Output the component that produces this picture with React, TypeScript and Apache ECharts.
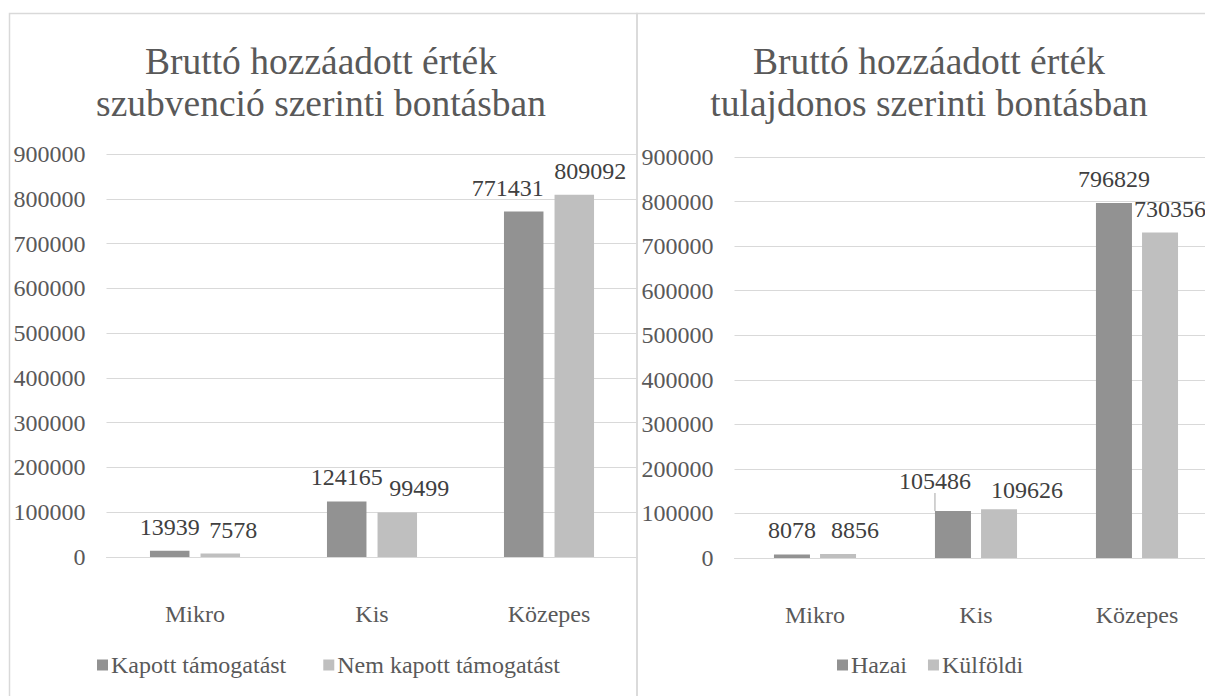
import React, { useEffect, useRef } from "react";
import * as echarts from "echarts";

const categories = ["Mikro", "Kis", "Közepes"];
const leftSeriesNames = ["Kapott támogatást", "Nem kapott támogatást"];
const kapott = [13939, 124165, 771431];
const nemKapott = [7578, 99499, 809092];
const rightSeriesNames = ["Hazai", "Külföldi"];
const hazai = [8078, 105486, 796829];
const kulfoldi = [8856, 109626, 730356];
const yMin = 0;
const yMax = 900000;
const yInterval = 100000;

const leftTitle = ["Bruttó hozzáadott érték", "szubvenció szerinti bontásban"];
const rightTitle = ["Bruttó hozzáadott érték", "tulajdonos szerinti bontásban"];

// label nudges (style, not data)
const labelShift: number[][][] = [
  [[0, 0], [0, 0], [-16, 0]],
  [[13, 0], [22, 0], [16, 0]],
  [[0, 0], [-18, -6], [0, 0]],
  [[17, 0], [28, 5], [10, 0]],
];
// which label has a leader line: [seriesIdx, dataIdx]
const leaderLabel = [2, 1];

const FONT = "Liberation Serif";
const AXIS_COLOR = "#595959";
const LABEL_COLOR = "#404040";
const GRID_COLOR = "#d9d9d9";
const DARK = "#929292";
const LIGHT = "#bfbfbf";

export default function App() {
  const ref = useRef<HTMLDivElement>(null);
  useEffect(() => {
    if (!ref.current) return;
    const chart = echarts.init(ref.current, null, { renderer: "svg" });

    const yAxisBase = (gridIndex: number) => ({
      type: "value",
      gridIndex,
      min: yMin,
      max: yMax,
      interval: yInterval,
      axisLine: { show: false },
      axisTick: { show: false },
      axisLabel: {
        color: AXIS_COLOR,
        fontFamily: FONT,
        fontSize: 24,
        margin: 21,
        formatter: (v: number) => String(v),
      },
      splitLine: { lineStyle: { color: GRID_COLOR, width: 1 } },
    });
    const xAxisBase = (gridIndex: number) => ({
      type: "category",
      gridIndex,
      data: categories,
      axisLine: { lineStyle: { color: GRID_COLOR, width: 1 } },
      axisTick: { show: false },
      axisLabel: { color: AXIS_COLOR, fontFamily: FONT, fontSize: 24, margin: 45 },
    });

    const mkSeries = (
      name: string,
      values: number[],
      color: string,
      idx: number,
      gridIdx: number,
      barWidth: number
    ) => {
      const hasLeader = leaderLabel[0] === idx;
      return {
        type: "bar",
        name,
        xAxisIndex: gridIdx,
        yAxisIndex: gridIdx,
        barWidth,
        barGap: "28%",
        itemStyle: { color },
        label: {
          show: true,
          position: "top",
          distance: 12,
          color: LABEL_COLOR,
          fontFamily: FONT,
          fontSize: 24,
        },
        labelLine: { show: false },
        labelLayout: hasLeader
          ? (p: any) => {
              if (p.dataIndex !== leaderLabel[1]) return {};
              const s = labelShift[idx][p.dataIndex];
              return { dx: s[0], dy: s[1] };
            }
          : undefined,
        data: values.map((v, i) => {
          const s = labelShift[idx][i];
          if (hasLeader && i === leaderLabel[1]) {
            return {
              value: v,
              labelLine: { show: true, lineStyle: { color: "#a6a6a6", width: 1 } },
            };
          }
          return { value: v, label: { offset: [s[0], s[1]] } };
        }),
      };
    };

    const titleText = (lines: string[], cx: number) =>
      lines.map((t, i) => ({
        type: "text",
        x: cx,
        y: 61 + i * 42,
        silent: true,
        style: {
          text: t,
          fill: AXIS_COLOR,
          fontFamily: FONT,
          fontSize: 37.5,
          textAlign: "center",
          textVerticalAlign: "middle",
        },
      }));

    chart.setOption({
      animation: false,
      backgroundColor: "#ffffff",
      grid: [
        { left: 106.5, top: 154, width: 531, height: 403 },
        { left: 734.5, top: 157, width: 483, height: 401 },
      ],
      xAxis: [xAxisBase(0), xAxisBase(1)],
      yAxis: [yAxisBase(0), yAxisBase(1)],
      legend: [
        {
          data: leftSeriesNames,
          left: 97,
          top: 653,
          padding: 0,
          itemWidth: 11,
          itemHeight: 11,
          itemGap: 37,
          icon: "rect",
          textStyle: { color: AXIS_COLOR, fontFamily: FONT, fontSize: 24, padding: [0, 0, 0, -2] },
        },
        {
          data: rightSeriesNames,
          left: 837,
          top: 653,
          padding: 0,
          itemWidth: 11,
          itemHeight: 11,
          itemGap: 21,
          icon: "rect",
          textStyle: { color: AXIS_COLOR, fontFamily: FONT, fontSize: 24, padding: [0, 0, 0, -2] },
        },
      ],
      series: [
        mkSeries(leftSeriesNames[0], kapott, DARK, 0, 0, 39.5),
        mkSeries(leftSeriesNames[1], nemKapott, LIGHT, 1, 0, 39.5),
        mkSeries(rightSeriesNames[0], hazai, DARK, 2, 1, 36),
        mkSeries(rightSeriesNames[1], kulfoldi, LIGHT, 3, 1, 36),
      ],
      graphic: [
        {
          type: "rect",
          silent: true,
          z: -1,
          shape: { x: 9.5, y: 13.5, width: 627.5, height: 700 },
          style: { fill: "none", stroke: GRID_COLOR, lineWidth: 1.5 },
        },
        {
          type: "rect",
          silent: true,
          z: -1,
          shape: { x: 637, y: 13.5, width: 620, height: 700 },
          style: { fill: "none", stroke: GRID_COLOR, lineWidth: 1.5 },
        },
        ...titleText(leftTitle, 321),
        ...titleText(rightTitle, 929),
      ],
    });
    return () => chart.dispose();
  }, []);
  return (
    <div
      style={{
        position: "absolute",
        left: 0,
        top: 0,
        width: 1205,
        height: 696,
        overflow: "hidden",
      }}
    >
      <div ref={ref} style={{ width: 1240, height: 696 }} />
    </div>
  );
}
